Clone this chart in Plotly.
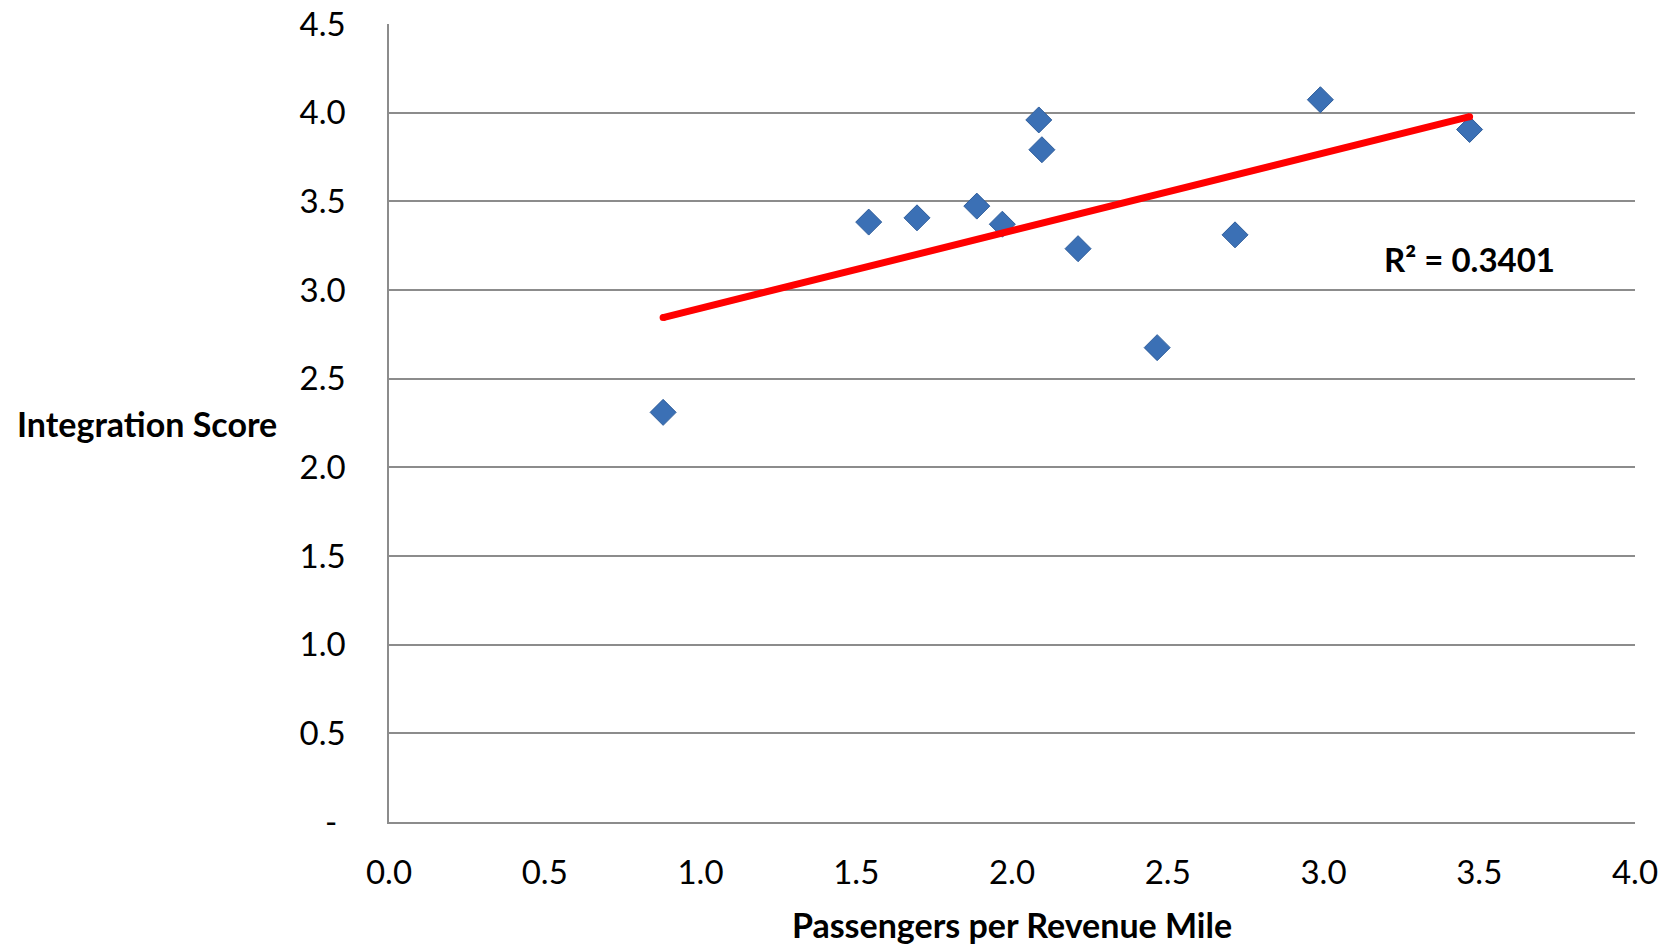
import numpy as np
import plotly.graph_objects as go

# Passengers per revenue mile vs. integration score, one point per system
passengers_per_mile = [0.88, 1.54, 1.695, 1.887, 1.969, 2.086, 2.096, 2.212, 2.466, 2.716, 2.99, 3.469]
integration_score = [2.31, 3.383, 3.407, 3.473, 3.371, 3.959, 3.791, 3.233, 2.675, 3.311, 4.073, 3.905]

y_tick_vals = [0, 0.5, 1.0, 1.5, 2.0, 2.5, 3.0, 3.5, 4.0, 4.5]
y_tick_text = ["-\u00a0", "0.5", "1.0", "1.5", "2.0", "2.5", "3.0", "3.5", "4.0", "4.5"]
x_tick_vals = [0, 0.5, 1.0, 1.5, 2.0, 2.5, 3.0, 3.5, 4.0]
x_tick_text = ["0.0", "0.5", "1.0", "1.5", "2.0", "2.5", "3.0", "3.5", "4.0"]

r_squared_label = "R\u00b2 = 0.3401"

# Linear least-squares trend line over the range of the data
x = np.array(passengers_per_mile)
y = np.array(integration_score)
slope, intercept = np.polyfit(x, y, 1)
trend_x = np.array([x.min(), x.max()])
trend_y = slope * trend_x + intercept

FONT = "Lato, Carlito, Calibri, sans-serif"
GRID = "#8c8c8c"

fig = go.Figure()

fig.add_trace(go.Scatter(
    x=passengers_per_mile, y=integration_score,
    mode="markers",
    marker=dict(symbol="diamond", size=20, color="#3b70b5",
                line=dict(color="#2f5e9c", width=1)),
    showlegend=False,
))

fig.add_trace(go.Scatter(
    x=trend_x, y=trend_y,
    mode="lines+markers",
    line=dict(color="#ff0000", width=7),
    marker=dict(symbol="circle", size=7, color="#ff0000"),
    showlegend=False,
))

fig.add_annotation(
    x=3.188, y=3.175, xref="x", yref="y",
    text="<b>" + r_squared_label + "</b>",
    showarrow=False, xanchor="left", yanchor="middle",
    font=dict(family=FONT, size=33, color="black"),
)

fig.add_annotation(
    x=-0.3, y=0.5, xref="paper", yref="paper",
    text="<b>Integration Score</b>",
    showarrow=False, xanchor="left", yanchor="middle",
    font=dict(family=FONT, size=34, color="black"),
)

fig.update_layout(
    width=1671, height=945,
    margin=dict(l=389, r=36, t=24, b=123),
    paper_bgcolor="white", plot_bgcolor="white",
    font=dict(family=FONT, size=33, color="black"),
    xaxis=dict(
        range=[0, 4], tickvals=x_tick_vals, ticktext=x_tick_text,
        showgrid=False, zeroline=False, automargin=False,
        showline=True, linecolor=GRID, linewidth=1.5,
        ticks="", ticklabelstandoff=21,
        title=dict(text="<b>Passengers per Revenue Mile</b>",
                   font=dict(family=FONT, size=34, color="black"), standoff=29),
    ),
    yaxis=dict(
        range=[0, 4.5], tickvals=y_tick_vals, ticktext=y_tick_text,
        showgrid=True, gridcolor=GRID, gridwidth=1.5,
        zeroline=False, automargin=False,
        showline=True, linecolor=GRID, linewidth=1.5,
        ticks="", ticklabelstandoff=35,
    ),
)

fig.write_html("out.html")
